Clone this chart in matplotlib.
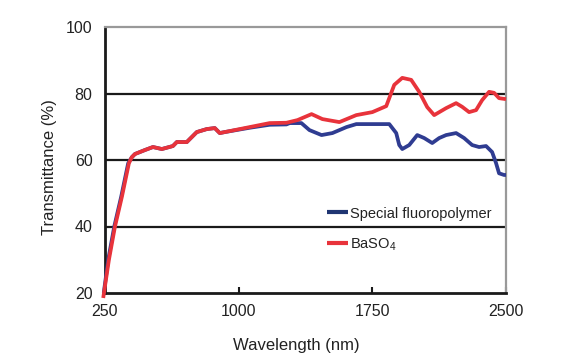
import matplotlib
matplotlib.use('Agg')
from matplotlib import pyplot as plt

plt.rcParams['font.family'] = ['Liberation Sans', 'DejaVu Sans']

# BaSO4 reference (red)
wl_baso4 = [240, 272, 306, 345, 384, 400, 418, 474, 519, 569, 631, 653, 709,
            765, 821, 866, 894, 922, 1062, 1174, 1268, 1330, 1409, 1470, 1565,
            1660, 1750, 1828, 1873, 1918, 1968, 2013, 2058, 2097, 2164, 2220,
            2254, 2293, 2332, 2366, 2405, 2433, 2461, 2500]
t_baso4 = [18.5, 30, 40, 49, 59, 60.8, 61.8, 63.0, 63.9, 63.3, 64.2, 65.4, 65.4,
           68.4, 69.3, 69.6, 68.1, 68.4, 69.9, 71.1, 71.2, 72.0, 73.8, 72.3, 71.4,
           73.5, 74.4, 76.2, 82.6, 84.7, 84.1, 80.5, 75.9, 73.5, 75.6, 77.1,
           76.0, 74.4, 75.0, 78.0, 80.5, 80.2, 78.6, 78.3]

# special fluoropolymer (blue)
wl_fluoro = [243, 268, 302, 341, 380, 400, 418, 474, 519, 569, 631, 653, 709,
             765, 821, 866, 894, 922, 1062, 1174, 1268, 1286, 1352, 1397, 1465,
             1526, 1605, 1660, 1772, 1845, 1884, 1901, 1918, 1957, 2002, 2041,
             2086, 2125, 2164, 2220, 2265, 2310, 2349, 2388, 2422, 2444, 2461,
             2489, 2500]
t_fluoro = [20, 30, 40, 49, 59, 60.8, 61.8, 63.0, 63.9, 63.3, 64.2, 65.4, 65.4,
            68.4, 69.3, 69.6, 68.1, 68.4, 69.7, 70.6, 70.7, 71.1, 71.1, 69.0, 67.5,
            68.1, 69.9, 70.8, 70.8, 70.8, 68.1, 64.5, 63.3, 64.5, 67.5, 66.6,
            65.1, 66.6, 67.5, 68.1, 66.6, 64.5, 63.9, 64.2, 62.4, 59.1, 56.0,
            55.5, 55.5]

x_ticks = [250, 1000, 1750, 2500]
y_ticks = [20, 40, 60, 80, 100]
grid_levels = [40, 60, 80]

fig = plt.figure(figsize=(5.72, 3.59), dpi=100)
ax = fig.add_axes([105 / 572, 1 - 293 / 359, 401 / 572, 266 / 359])

for g in grid_levels:
    ax.axhline(g, color='#1a1a1a', lw=1.6, zorder=1)

ax.plot(wl_fluoro, t_fluoro, color='#2f3c91', lw=2.7, label='Special fluoropolymer',
        zorder=3, clip_on=False, solid_capstyle='butt')
ax.plot(wl_baso4, t_baso4, color='#e8333b', lw=2.7, label='BaSO$_\\mathregular{4}$',
        zorder=4, clip_on=False, solid_capstyle='butt')

ax.set_xlim(250, 2500)
ax.set_ylim(20, 100)
ax.set_xticks(x_ticks)
ax.set_yticks(y_ticks)
ax.tick_params(axis='x', direction='in', length=4.5, width=1.5, pad=8,
               labelsize=11.5, color='#1a1a1a', labelcolor='#222222')
ax.tick_params(axis='y', length=0, pad=9, labelsize=11.5, labelcolor='#222222')

ax.spines['left'].set_color('#1a1a1a')
ax.spines['left'].set_linewidth(2)
ax.spines['bottom'].set_color('#1a1a1a')
ax.spines['bottom'].set_linewidth(2)
ax.spines['top'].set_color('#999999')
ax.spines['top'].set_linewidth(1.6)
ax.spines['right'].set_color('#999999')
ax.spines['right'].set_linewidth(1.6)

ax.set_xlabel('Wavelength (nm)', fontsize=12, color='#222222')
ax.set_ylabel('Transmittance (%)', fontsize=12, color='#222222')
ax.xaxis.set_label_coords(0.476, -0.17)
ax.yaxis.set_label_coords(-0.12, 0.474)

leg = ax.legend(loc='upper left', bbox_to_anchor=(0.554, 0.325), frameon=False,
                fontsize=10.5, handlelength=1.4, handletextpad=0.15,
                labelspacing=1.05, borderpad=0, borderaxespad=0)
for h in leg.get_lines():
    h.set_linewidth(3)
leg.get_lines()[0].set_color('#1f3572')
for t in leg.get_texts():
    t.set_color('#222222')

fig.savefig('out.png', dpi=100)
